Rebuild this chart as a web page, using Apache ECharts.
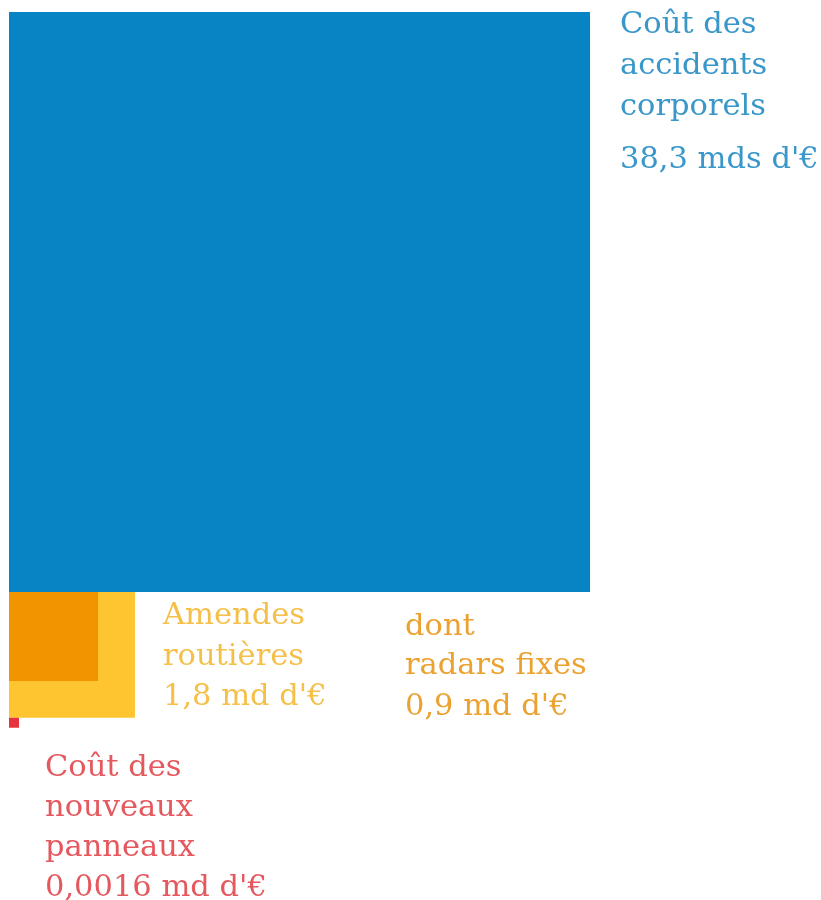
<!DOCTYPE html>
<html>
<head>
<meta charset="utf-8">
<script src="https://cdn.jsdelivr.net/npm/echarts@6/dist/echarts.min.js"></script>
<style>html,body{margin:0;padding:0;background:#fff;}#c{width:821px;height:900px;}</style>
</head>
<body>
<div id="c"></div>
<script>
const names = [['Coût des', 'accidents', 'corporels'], ['Amendes', 'routières'], ['dont', 'radars fixes'], ['Coût des', 'nouveaux', 'panneaux']];
const values = [38.3, 1.8, 0.9, 0.0016];
const valueTexts = ["38,3 mds d'€", "1,8 md d'€", "0,9 md d'€", "0,0016 md d'€"];
const colors = ['#0784c3', '#fec530', '#f09400', '#e8323c'];
const textColors = ['#3a97c9', '#f5c04a', '#eba230', '#e4585e'];

const sides = values.map(v => Math.sqrt(v));
// layout: blue top-left; yellow & orange below blue; red below yellow
const anchors = [[0, 0], [0, sides[0]], [0, sides[0]], [0, sides[0] + sides[1]]];
const data = values.map((v, i) => [anchors[i][0], anchors[i][1], sides[i], i]);

// label layout: x, first line centre, line gap, value-line centre
const labelLayout = [[620, 22, 41, 157], [163, 613, 41, 694], [405, 624, 39, 704], [45, 765, 40, 885]];
const FS = 30.5;

const graphics = [];
names.forEach((lines, i) => {
  const L = labelLayout[i];
  const all = lines.map((t, j) => [t, L[1] + j * L[2]]).concat([[valueTexts[i], L[3]]]);
  all.forEach(([t, c]) => {
    graphics.push({
      type: 'text',
      x: L[0],
      y: c + 3.5,
      style: {text: t, fill: textColors[i], font: FS + 'px "DejaVu Serif"', verticalAlign: 'middle', align: 'left'}
    });
  });
});

const chart = echarts.init(document.getElementById('c'), null, {renderer: 'canvas'});
chart.setOption({
  animation: false,
  grid: {left: 9, top: 12, width: 581, height: 580},
  xAxis: {type: 'value', min: 0, max: sides[0], show: false},
  yAxis: {type: 'value', min: 0, max: sides[0], inverse: true, show: false},
  series: [{
    type: 'custom',
    clip: false,
    data: data,
    encode: {x: [0], y: [1]},
    renderItem: function (params, api) {
      const x0 = api.value(0), y0 = api.value(1), s = api.value(2), idx = api.value(3);
      const p0 = api.coord([x0, y0]);
      const p1 = api.coord([x0 + s, y0 + s]);
      const w = Math.max(p1[0] - p0[0], 10);
      const h = Math.max(p1[1] - p0[1], 10);
      return {type: 'rect', shape: {x: p0[0], y: p0[1], width: w, height: h}, style: {fill: colors[idx]}};
    }
  }],
  graphic: graphics
});
</script>
</body>
</html>
